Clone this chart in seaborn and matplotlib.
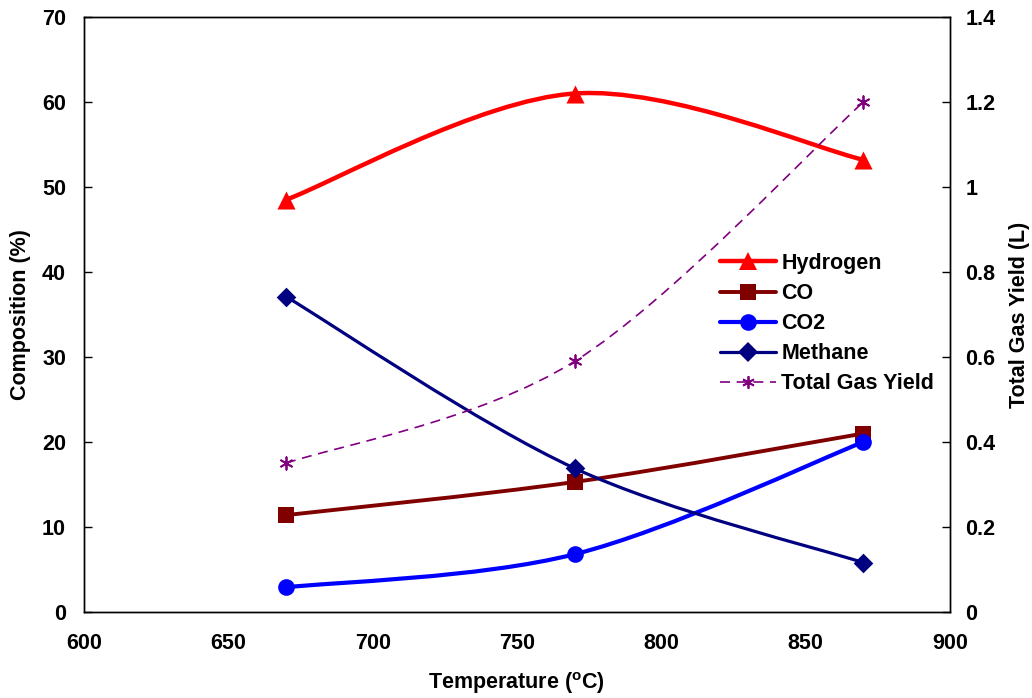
import numpy as np
import matplotlib
matplotlib.use("Agg")
import matplotlib.pyplot as plt
from matplotlib.path import Path
from matplotlib.patches import PathPatch
from matplotlib.lines import Line2D
import seaborn as sns
import pandas as pd

# ---- data ----
temperature = [670, 770, 870]
hydrogen = [48.5, 61.0, 53.2]
co = [11.4, 15.3, 21.0]
co2 = [2.9, 6.8, 20.0]
methane = [37.1, 16.9, 5.8]
total_gas_yield = [0.35, 0.59, 1.2]

x_ticks = [600, 650, 700, 750, 800, 850, 900]
y_left_ticks = [0, 10, 20, 30, 40, 50, 60, 70]
y_right_ticks = [0, 0.2, 0.4, 0.6, 0.8, 1.0, 1.2, 1.4]
y_right_labels = ["0", "0.2", "0.4", "0.6", "0.8", "1", "1.2", "1.4"]

sns.set_theme(style="white")
plt.rcParams['font.family'] = ['Liberation Sans', 'DejaVu Sans']
plt.rcParams['font.weight'] = 'bold'
plt.rcParams['text.color'] = 'black'
plt.rcParams['axes.labelcolor'] = 'black'
plt.rcParams['xtick.color'] = 'black'
plt.rcParams['ytick.color'] = 'black'
plt.rcParams['mathtext.fontset'] = 'custom'
plt.rcParams['mathtext.rm'] = 'Liberation Sans:bold'
plt.rcParams['mathtext.bf'] = 'Liberation Sans:bold'
plt.rcParams['mathtext.it'] = 'Liberation Sans:bold'

FS = 15.5

fig = plt.figure(figsize=(10.32, 6.98), dpi=100)
ax = fig.add_axes([84/1032, 1-612/698, (950-84)/1032, (612-17)/698])
ax2 = ax.twinx()


def smooth_path(xs, ys):
    """Excel-style smoothed line: cubic Bezier through the data points."""
    pts = np.column_stack([xs, ys]).astype(float)
    n = len(pts)
    verts = [pts[0]]
    codes = [Path.MOVETO]
    for i in range(n - 1):
        p_prev = pts[i - 1] if i > 0 else pts[i]
        p0 = pts[i]
        p1 = pts[i + 1]
        p_next = pts[i + 2] if i + 2 < n else pts[i + 1]
        c1 = p0 + (p1 - p_prev) / 6.0
        c2 = p1 - (p_next - p0) / 6.0
        verts += [c1, c2, p1]
        codes += [Path.CURVE4] * 3
    return Path(verts, codes)


series = [
    (ax, hydrogen, "Hydrogen", "#FF0000", "^", 3.2, "-", 13),
    (ax, co, "CO", "#800000", "s", 2.8, "-", 11),
    (ax, co2, "CO2", "#0000FF", "o", 3.0, "-", 12),
    (ax, methane, "Methane", "#000080", "D", 2.3, "-", 10),
]

handles = []
for a, ys, name, col, mk, lw, ls, ms in series:
    a.add_patch(PathPatch(smooth_path(temperature, ys), facecolor="none",
                          edgecolor=col, lw=lw, ls=ls, zorder=3))
    df = pd.DataFrame({"x": temperature, "y": ys})
    sns.scatterplot(data=df, x="x", y="y", ax=a, marker=mk, color=col,
                    s=ms**2, edgecolor=col, linewidth=0, zorder=4)
    handles.append(Line2D([], [], color=col, lw=lw, marker=mk, markersize=ms,
                          markeredgewidth=0, label=name))

# total gas yield on secondary axis
ax2.add_patch(PathPatch(smooth_path(temperature, total_gas_yield), facecolor="none",
                        edgecolor="#800080", lw=1.2, ls=(0, (6, 4)), zorder=3))
dfg = pd.DataFrame({"x": temperature, "y": total_gas_yield})
sns.scatterplot(data=dfg, x="x", y="y", ax=ax2, marker=(6, 2, 0), color="#800080",
                s=80, edgecolor="#800080", linewidth=1.3, zorder=4)
handles.append(Line2D([], [], color="#800080", lw=1.2, ls=(0, (6, 4)),
                      marker=(6, 2, 0), markersize=9, markeredgewidth=1.3,
                      label="Total Gas Yield"))

ax.set_xlim(600, 900)
ax.set_ylim(0, 70)
ax2.set_ylim(0, 1.4)
ax.set_xticks(x_ticks)
ax.set_yticks(y_left_ticks)
ax2.set_yticks(y_right_ticks)
ax2.set_yticklabels(y_right_labels)

for a in (ax, ax2):
    a.tick_params(direction="in", length=6, width=1, colors="black",
                  labelsize=FS)
    for s in a.spines.values():
        s.set_color("black")
        s.set_linewidth(1.0)
ax.tick_params(axis="x", pad=15)
ax.tick_params(axis="y", pad=13, left=True)
ax2.tick_params(axis="y", pad=11, right=True)
for lab in ax.get_xticklabels() + ax.get_yticklabels() + ax2.get_yticklabels():
    lab.set_fontweight("bold")

ax.set_ylabel("Composition (%)", fontsize=FS, fontweight="bold", labelpad=8)
ax2.set_ylabel("Total Gas Yield (L)", fontsize=FS, fontweight="bold", labelpad=10)
ax.set_xlabel("")
fig.text(516/1032, 1-683/698, r"Temperature ($^{\mathrm{o}}$C)", fontsize=FS,
         fontweight="bold", ha="center", va="center")

leg = ax2.legend(handles=handles, loc="upper left",
                 bbox_to_anchor=(720/1032, 1-253/698), bbox_transform=fig.transFigure,
                 frameon=False, fontsize=FS, handlelength=2.6, handletextpad=0.25,
                 labelspacing=0.42, borderaxespad=0, borderpad=0)
for t in leg.get_texts():
    t.set_fontweight("bold")

fig.savefig("out.png", dpi=100)
